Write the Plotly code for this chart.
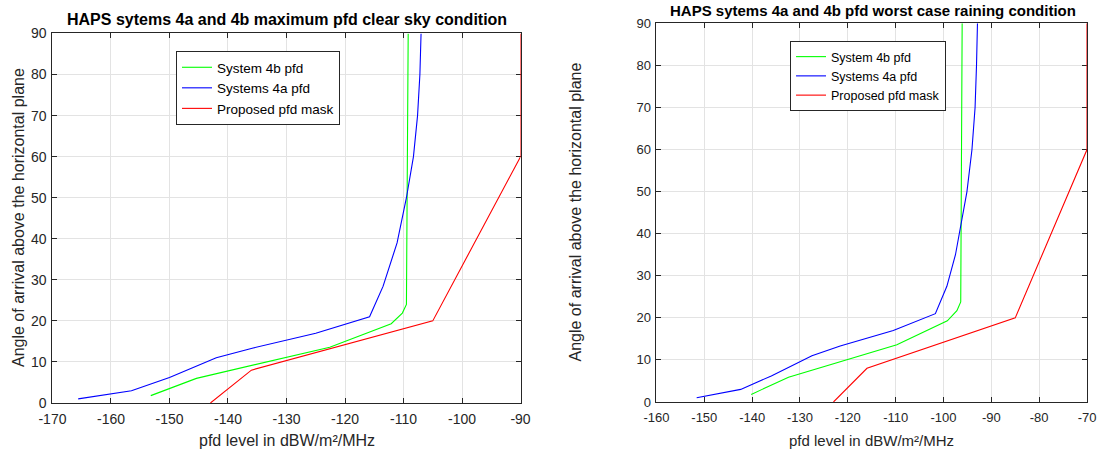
import plotly.graph_objects as go

# ---- Data: clear sky (left panel) ----
clear_4b_x = [-153.2, -145.4, -122.6, -112.1, -110.2, -109.5, -109.2]
clear_4b_y = [1.8, 6.0, 13.6, 19.3, 21.9, 24.0, 90.0]
clear_4a_x = [-165.6, -156.5, -150.0, -142.0, -135.7, -125.0, -115.8, -113.5, -111.1, -109.5, -108.3, -107.6, -107.2, -107.0]
clear_4a_y = [1.0, 3.0, 6.2, 11.0, 13.4, 17.0, 21.0, 28.4, 39.0, 50.0, 60.0, 70.0, 80.0, 90.0]
clear_mask_x = [-143.0, -136.0, -105.0, -90.0, -90.0]
clear_mask_y = [0.0, 8.0, 20.0, 60.0, 90.0]

# ---- Data: worst case raining (right panel) ----
rain_4b_x = [-140.2, -132.4, -109.75, -99.2, -97.2, -96.4, -96.1]
rain_4b_y = [1.8, 5.9, 13.6, 19.3, 21.7, 23.8, 90.0]
rain_4a_x = [-151.6, -142.4, -136.0, -127.5, -121.6, -110.5, -101.7, -99.3, -97.5, -96.2, -95.1, -94.05, -93.4, -93.1, -92.9]
rain_4a_y = [1.0, 3.0, 6.2, 11.0, 13.3, 17.0, 21.0, 27.5, 35.0, 43.0, 50.0, 60.0, 70.0, 80.0, 90.0]
rain_mask_x = [-123.0, -116.0, -85.0, -70.0, -70.0]
rain_mask_y = [0.0, 8.0, 20.0, 60.0, 90.0]

names = ["System 4b pfd", "Systems 4a pfd", "Proposed pfd mask"]
colors = ["#00ff00", "#0000ff", "#ff0000"]

left_ticks = [-170, -160, -150, -140, -130, -120, -110, -100, -90]
left_tick_text = ["-170", "-160", "-150", "-140", "-130", "-120", "-110", "-100", "-90"]
right_ticks = [-160, -150, -140, -130, -120, -110, -100, -90, -80, -70]
right_tick_text = ["-160", "-150", "-140", "-130", "-120", "-110", "-100", "-90", "-80", "-70"]
y_ticks = [0, 10, 20, 30, 40, 50, 60, 70, 80, 90]

FONT = "Liberation Sans, Arial, sans-serif"
DARK = "#262626"

fig = go.Figure()

left_series = [(clear_4b_x, clear_4b_y), (clear_4a_x, clear_4a_y), (clear_mask_x, clear_mask_y)]
right_series = [(rain_4b_x, rain_4b_y), (rain_4a_x, rain_4a_y), (rain_mask_x, rain_mask_y)]

for (xs, ys), nm, c in zip(left_series, names, colors):
    fig.add_trace(go.Scatter(x=xs, y=ys, mode="lines", name=nm,
                             line=dict(color=c, width=1.1),
                             xaxis="x", yaxis="y", legend="legend"))
for (xs, ys), nm, c in zip(right_series, names, colors):
    fig.add_trace(go.Scatter(x=xs, y=ys, mode="lines", name=nm,
                             line=dict(color=c, width=1.1),
                             xaxis="x2", yaxis="y2", legend="legend2"))

axis_common = dict(showgrid=True, gridcolor="#e3e3e3", gridwidth=1,
                   showline=True, linecolor=DARK, linewidth=1, mirror="allticks",
                   ticks="inside", ticklen=5, tickcolor=DARK, zeroline=False,
                   layer="below traces", color=DARK, automargin=False)

fig.update_layout(
    width=1100, height=452,
    margin=dict(l=0, r=0, t=0, b=0, autoexpand=False),
    paper_bgcolor="white", plot_bgcolor="white",
    font=dict(family=FONT, color=DARK),
    xaxis=dict(domain=[0.0477, 0.4732], range=[-170, -90], tickvals=left_ticks, ticktext=left_tick_text,
               anchor="y", ticklabelstandoff=3,
               tickfont=dict(size=14, family=FONT, color=DARK), **axis_common),
    yaxis=dict(domain=[0.1084, 0.9259], range=[0, 90], tickvals=y_ticks,
               anchor="x", ticklabelstandoff=2,
               tickfont=dict(size=14, family=FONT, color=DARK), **axis_common),
    xaxis2=dict(domain=[0.5968, 0.9882], range=[-160, -70], tickvals=right_ticks, ticktext=right_tick_text,
                anchor="y2", ticklabelstandoff=3,
                tickfont=dict(size=13, family=FONT, color=DARK), **axis_common),
    yaxis2=dict(domain=[0.1106, 0.9485], range=[0, 90], tickvals=y_ticks,
                anchor="x2", ticklabelstandoff=2,
                tickfont=dict(size=13, family=FONT, color=DARK), **axis_common),
    legend=dict(x=0.16, y=1 - 51 / 452, xanchor="left", yanchor="top",
                bgcolor="white", bordercolor=DARK, borderwidth=1,
                font=dict(size=13.5, family=FONT, color="black"),
                tracegroupgap=0, itemwidth=30),
    legend2=dict(x=0.7182, y=1 - 41 / 452, xanchor="left", yanchor="top",
                 bgcolor="white", bordercolor=DARK, borderwidth=1,
                 font=dict(size=12.5, family=FONT, color="black"),
                 tracegroupgap=0, itemwidth=30),
    showlegend=True,
)

annotations = [
    dict(text="<b>HAPS sytems 4a and 4b maximum pfd clear sky condition</b>",
         x=0.2605, y=1 - 20 / 452, font=dict(size=16, color="black", family=FONT)),
    dict(text="<b>HAPS sytems 4a and 4b pfd worst case raining condition</b>",
         x=0.7936, y=1 - 10 / 452, font=dict(size=15, color="black", family=FONT)),
    dict(text="pfd level in dBW/m²/MHz", x=0.2605, y=1 - 440 / 452,
         font=dict(size=16, color=DARK, family=FONT)),
    dict(text="pfd level in dBW/m²/MHz", x=0.7925, y=1 - 440 / 452,
         font=dict(size=15, color=DARK, family=FONT)),
    dict(text="Angle of arrival above the horizontal plane", x=18 / 1100, y=1 - 218 / 452,
         textangle=-90, font=dict(size=16, color=DARK, family=FONT)),
    dict(text="Angle of arrival above the horizontal plane", x=575 / 1100, y=1 - 212.5 / 452,
         textangle=-90, font=dict(size=16, color=DARK, family=FONT)),
]
for a in annotations:
    a.update(xref="paper", yref="paper", showarrow=False, xanchor="center", yanchor="middle")
fig.update_layout(annotations=annotations)

fig.write_html("out.html")
